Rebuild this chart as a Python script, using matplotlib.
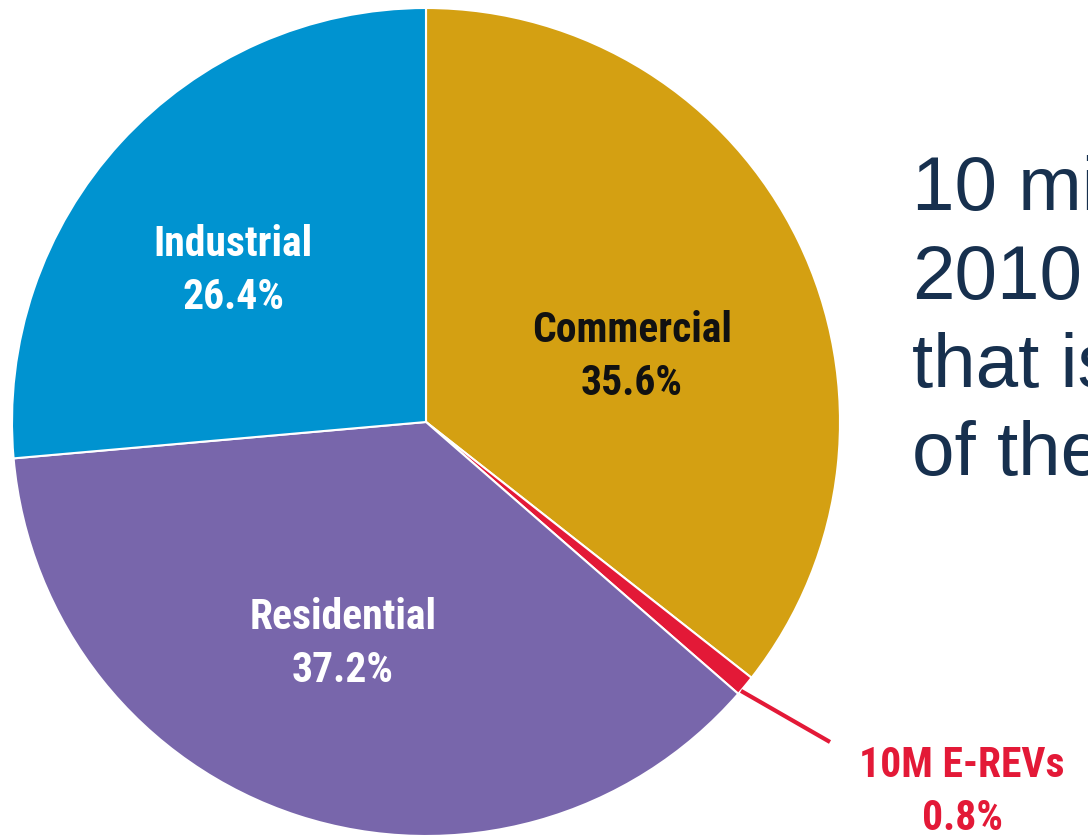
import numpy as np
import matplotlib
matplotlib.use("Agg")
import matplotlib.pyplot as plt
from matplotlib import font_manager

labels = ['Commercial', '10M E-REVs', 'Residential', 'Industrial']
shares = [35.6, 0.8, 37.2, 26.4]
colors = ['#d4a012', '#e31937', '#7866ab', '#0093d0']
text_colors = ['#111111', '#e31937', 'white', 'white']
side_lines = ['10 mi', '2010', 'that is', 'of the']

W, H = 1088, 835
fig = plt.figure(figsize=(W / 100, H / 100), dpi=100)
ax = fig.add_axes([0, 0, 1, 1])

cx, cy, r = 426, H - 422, 414
wedges, _ = ax.pie(shares, colors=colors, startangle=90, counterclock=False,
                   center=(cx, cy), radius=r, frame=True,
                   wedgeprops=dict(edgecolor='white', linewidth=1.5))
ax.set_xlim(0, W)
ax.set_ylim(0, H)
ax.axis('off')

# narrow bold face for the slice labels, if one is around
names = {f.name for f in font_manager.fontManager.ttflist}
narrow = [n for n in ['Liberation Sans Narrow', 'Roboto Condensed', 'Open Sans Condensed']
          if n in names]
lab_font = dict(family=narrow + ['DejaVu Sans'], stretch='condensed',
                weight='bold', fontsize=30, ha='center', va='center',
                linespacing=1.35)

# labels inside the big slices
pos = {'Commercial': (632, 357), 'Residential': (343, 644), 'Industrial': (233, 271)}
for name, val, col in zip(labels, shares, text_colors):
    if name in pos:
        x, y = pos[name]
        ax.text(x, H - y, f'{name}\n{val}%', color=col, **lab_font)

# small slice gets a leader line out to its label
w = wedges[1]
mid = np.deg2rad((w.theta1 + w.theta2) / 2)
x0, y0 = cx + r * np.cos(mid), cy + r * np.sin(mid)
ax.plot([x0 - 4, 830], [y0 - 5, H - 742], color=colors[1], lw=3, solid_capstyle='butt')
ax.text(962, H - 792, f'{labels[1]}\n{shares[1]}%', color=text_colors[1], **lab_font)

# side note, runs off the right edge
for i, line in enumerate(side_lines):
    ax.text(912, H - 210 - i * 88.5, line, color='#17304e', fontsize=55,
            family=['Liberation Sans', 'DejaVu Sans'], ha='left', va='baseline')

fig.savefig('out.png', dpi=100)
